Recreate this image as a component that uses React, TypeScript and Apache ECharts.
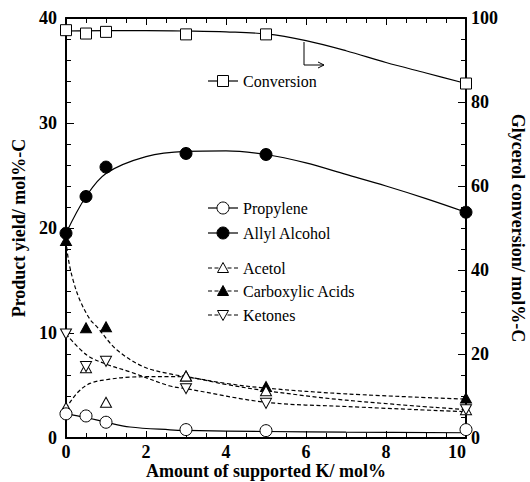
import React, { useEffect, useRef } from "react";
import * as echarts from "echarts";

// Measured K loadings (mol%)
const kLoading = [0, 0.5, 1, 3, 5, 10];

// Measured points
const conversion = [97.1, 96.3, 96.7, 96.1, 96.1, 84.4]; // right axis
const allylAlcohol = [19.5, 23.0, 25.8, 27.1, 27.0, 21.5];
const propylene = [2.3, 2.1, 1.5, 0.8, 0.7, 0.8];
const acetol = [2.9, 6.7, 3.4, 5.9, 4.5, 2.7];
const carboxylicAcids = [18.8, 10.5, 10.6, 5.9, 4.9, 3.8];
const ketones = [9.9, 6.8, 7.3, 4.7, 3.3, 2.7];

// Guide-line (fit) curves: [x, y]
const conversionFit = [[0, 96.9], [1, 97.0], [2, 97.0], [3, 96.9], [4, 96.7], [5, 96.2], [6, 94.6], [7, 92.2], [8, 89.4], [9, 86.9], [10, 84.4]];
const allylFit = [[0, 19.5], [0.5, 23.0], [1, 25.2], [2, 26.8], [3, 27.3], [4, 27.35], [5, 27.0], [6, 26.2], [7, 25.1], [8, 24.0], [9, 22.8], [10, 21.5]];
const propyleneFit = [[0, 2.3], [0.5, 1.95], [1, 1.5], [1.6, 1.05], [2.6, 0.78], [3, 0.72], [5, 0.62], [7, 0.56], [10, 0.5]];
const acetolFit = [[0, 2.8], [0.27, 4.25], [0.6, 5.2], [1.1, 5.6], [1.6, 5.8], [2.6, 5.85], [3, 5.8], [4, 5.1], [5, 4.5], [7, 3.6], [10, 2.7]];
const carboxylicFit = [[0, 18.8], [0.06, 17.0], [0.18, 15.0], [0.35, 13.1], [0.6, 11.3], [0.77, 10.6], [1.27, 8.4], [1.93, 6.8], [2.6, 6.1], [3, 5.85], [4, 5.2], [5, 4.75], [7, 4.2], [10, 3.7]];
const ketonesFit = [[0, 9.9], [0.52, 7.9], [1.03, 7.0], [1.6, 6.3], [2.6, 4.95], [3, 4.7], [5, 3.4], [7, 3.0], [10, 2.5]];

const legendItems = [
  { name: "Conversion", symbol: "square", fill: "#fff", dashed: false, y: 81 },
  { name: "Propylene", symbol: "circle", fill: "#fff", dashed: false, y: 208 },
  { name: "Allyl Alcohol", symbol: "circle", fill: "#000", dashed: false, y: 233 },
  { name: "Acetol", symbol: "up", fill: "#fff", dashed: true, y: 268 },
  { name: "Carboxylic Acids", symbol: "up", fill: "#000", dashed: true, y: 291 },
  { name: "Ketones", symbol: "down", fill: "#fff", dashed: true, y: 315 },
];

const FONT = "Liberation Serif";

function pts(xs: number[], ys: number[]) {
  return xs.map((x, i) => [x, ys[i]]);
}

function legendGraphic() {
  const els: any[] = [];
  const x0 = 208, x1 = 238, cx = 223;
  legendItems.forEach((it) => {
    els.push({
      type: "line",
      shape: { x1: x0, y1: it.y, x2: x1, y2: it.y },
      style: { stroke: "#000", lineWidth: 1.2, lineDash: it.dashed ? [4, 2.5] : null },
      z: 100,
    });
    const st = { fill: it.fill, stroke: "#000", lineWidth: 1 };
    if (it.symbol === "square") {
      els.push({ type: "rect", shape: { x: cx - 5.5, y: it.y - 5.5, width: 11, height: 11 }, style: st, z: 101 });
    } else if (it.symbol === "circle") {
      els.push({ type: "circle", shape: { cx, cy: it.y, r: 6 }, style: st, z: 101 });
    } else if (it.symbol === "up") {
      els.push({ type: "polygon", shape: { points: [[cx, it.y - 5.5], [cx + 5.5, it.y + 4.5], [cx - 5.5, it.y + 4.5]] }, style: st, z: 101 });
    } else {
      els.push({ type: "polygon", shape: { points: [[cx - 5.5, it.y - 4.5], [cx + 5.5, it.y - 4.5], [cx, it.y + 5.5]] }, style: st, z: 101 });
    }
    els.push({
      type: "text",
      x: 243,
      y: it.y,
      style: { text: it.name, fontSize: 16, fontFamily: FONT, fill: "#000", verticalAlign: "middle", align: "left" },
      z: 101,
    });
  });
  // arrow pointing to right axis
  els.push({ type: "polyline", shape: { points: [[304, 42], [304, 65], [324, 65]] }, style: { stroke: "#000", lineWidth: 1, fill: null }, z: 100 });
  els.push({ type: "polyline", shape: { points: [[318, 62], [324, 65], [318, 68]] }, style: { stroke: "#000", lineWidth: 1, fill: null }, z: 100 });
  return els;
}

export default function App() {
  const ref = useRef<HTMLDivElement>(null);
  useEffect(() => {
    const chart = echarts.init(ref.current!, null, { renderer: "svg" });
    const axisLine = { show: true, onZero: false, lineStyle: { color: "#000", width: 2 } };
    const labelStyle = { color: "#000", fontFamily: FONT, fontWeight: "bold", fontSize: 18 };
    const nameStyle = { color: "#000", fontFamily: FONT, fontWeight: "bold", fontSize: 18 };
    const fitLine = (data: number[][], dashed: boolean, yIdx = 0) => ({
      type: "line",
      data,
      yAxisIndex: yIdx,
      smooth: 0.35,
      showSymbol: false,
      symbol: "none",
      silent: true,
      lineStyle: { color: "#000", width: 1.2, type: dashed ? [4, 2.5] : "solid" },
      z: 2,
    });
    const scatter = (data: number[][], symbol: string, fill: string, size: any, yIdx = 0, rotate = 0, z = 3) => ({
      type: "scatter",
      data,
      yAxisIndex: yIdx,
      symbol,
      symbolSize: size,
      symbolRotate: rotate,
      itemStyle: { color: fill, borderColor: "#000", borderWidth: 1, opacity: 1 },
      z,
    });
    chart.setOption({
      animation: false,
      grid: { left: 66, right: 64, top: 18, bottom: 44, containLabel: false, outerBoundsMode: "none" },
      xAxis: [
        {
          type: "value", min: 0, max: 10, interval: 2, position: "bottom",
          axisLine, splitLine: { show: false },
          axisTick: { inside: true, length: 7, lineStyle: { color: "#000", width: 1 } },
          minorTick: { show: true, splitNumber: 4, length: 5, lineStyle: { color: "#000", width: 1 } },
          axisLabel: { ...labelStyle, margin: 5, alignMaxLabel: "right" },
          name: "Amount of supported K/ mol%", nameLocation: "middle", nameGap: 24, nameMoveOverlap: false,
          nameTextStyle: { ...nameStyle, fontSize: 18, lineHeight: 18 },
        },
        {
          type: "value", min: 0, max: 10, interval: 2, position: "top",
          axisLine, splitLine: { show: false },
          axisTick: { inside: true, length: 7, lineStyle: { color: "#000", width: 1 } },
          minorTick: { show: true, splitNumber: 4, length: 5, lineStyle: { color: "#000", width: 1 } },
          axisLabel: { show: false },
        },
      ],
      yAxis: [
        {
          type: "value", min: 0, max: 40, interval: 10, position: "left",
          axisLine, splitLine: { show: false },
          axisTick: { inside: true, length: 8, lineStyle: { color: "#000", width: 1 } },
          minorTick: { show: true, splitNumber: 5, length: 5, lineStyle: { color: "#000", width: 1 } },
          axisLabel: { ...labelStyle, margin: 9 },
          name: "Product yield/ mol%-C", nameLocation: "middle", nameRotate: 90, nameGap: 36, nameTextStyle: nameStyle,
        },
        {
          type: "value", min: 0, max: 100, interval: 20, position: "right",
          axisLine, splitLine: { show: false },
          axisTick: { inside: true, length: 8, lineStyle: { color: "#000", width: 1 } },
          minorTick: { show: true, splitNumber: 4, length: 5, lineStyle: { color: "#000", width: 1 } },
          axisLabel: { ...labelStyle, margin: 5 },
          name: "Glycerol conversion/ mol%-C", nameLocation: "middle", nameRotate: -90, nameGap: 38, nameTextStyle: nameStyle,
        },
      ],
      graphic: legendGraphic(),
      series: [
        fitLine(conversionFit, false, 1),
        fitLine(allylFit, false),
        fitLine(propyleneFit, false),
        fitLine(acetolFit, true),
        fitLine(carboxylicFit, true),
        fitLine(ketonesFit, true),
        scatter(pts(kLoading, conversion), "rect", "#fff", 11, 1),
        scatter(pts(kLoading, carboxylicAcids), "triangle", "#000", [11, 10], 0, 0, 3),
        scatter(pts(kLoading, acetol), "triangle", "#fff", [11, 10], 0, 0, 4),
        scatter(pts(kLoading, ketones), "triangle", "#fff", [11, 10], 0, 180, 4),
        scatter(pts(kLoading, propylene), "circle", "#fff", 12, 0, 0, 5),
        scatter(pts(kLoading, allylAlcohol), "circle", "#000", 12, 0, 0, 5),
      ],
    });
    return () => chart.dispose();
  }, []);
  return <div ref={ref} style={{ position: "fixed", left: 0, top: 0, width: 530, height: 482, background: "#fff" }} />;
}
